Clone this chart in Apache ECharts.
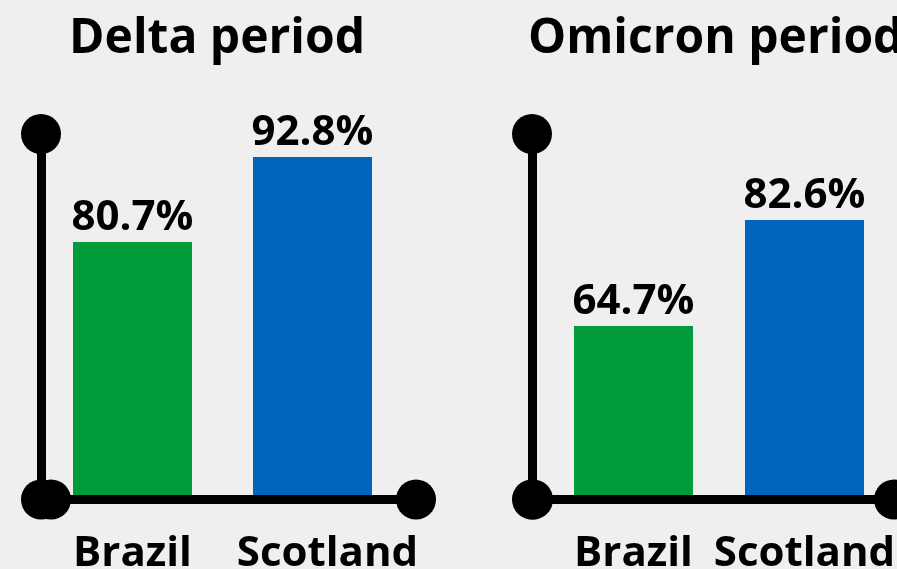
<!DOCTYPE html>
<html lang="en">
<head>
    <meta charset="UTF-8">
    <title>Delta vs Omicron</title>
    <script src="https://cdn.jsdelivr.net/npm/echarts@6/dist/echarts.min.js"></script>
    <style>
        html, body {
            margin: 0;
            padding: 0;
            background-color: #efefef;
        }
        #chart {
            width: 897px;
            height: 569px;
        }
    </style>
</head>
<body>
<div id="chart"></div>

<script>
    // data
    const countries = ['Brazil', 'Scotland'];
    const deltaValues = [80.7, 92.8];
    const omicronValues = [64.7, 82.6];
    const panelTitles = ['Delta period', 'Omicron period'];
    const barColors = ['#009b3a', '#0065bd'];

    const font = "'Open Sans', 'Noto Sans', sans-serif";

    const chart = echarts.init(document.getElementById('chart'));

    // black axis line with a round dot at each end
    function axisLineStyle(offsets) {
        return {
            show: true,
            symbol: ['circle', 'circle'],
            symbolSize: [40, 40],
            symbolOffset: offsets,
            lineStyle: { color: '#000', width: 9 }
        };
    }

    function barSeries(idx, values) {
        return {
            type: 'bar',
            xAxisIndex: idx,
            yAxisIndex: idx,
            barWidth: 119,
            z: 1,
            data: values.map((v, i) => ({
                value: v,
                itemStyle: { color: barColors[i] }
            })),
            label: {
                show: true,
                position: 'top',
                distance: 3,
                formatter: '{c}%',
                fontFamily: font,
                fontWeight: 'bold',
                fontSize: 42,
                color: '#000'
            }
        };
    }

    const labelBase = {
        interval: 0,
        margin: 34,
        fontFamily: font,
        fontWeight: 'bold',
        fontSize: 42,
        color: '#000'
    };

    const option = {
        backgroundColor: '#efefef',
        animation: false,
        title: [
            {
                text: panelTitles[0],
                left: 64,
                top: 10,
                textStyle: { fontFamily: font, fontWeight: 'bold', fontSize: 48, color: '#000' }
            },
            {
                text: panelTitles[1],
                left: 523,
                top: 10,
                textStyle: { fontFamily: font, fontWeight: 'bold', fontSize: 48, color: '#000' }
            }
        ],
        grid: [
            { left: 42.5, width: 360, top: 134, bottom: 69.5, containLabel: false, outerBoundsMode: 'none' },
            { left: 548, width: 342, top: 134, bottom: 69.5, containLabel: false, outerBoundsMode: 'none' }
        ],
        xAxis: [
            {
                type: 'category',
                gridIndex: 0,
                data: countries,
                axisLine: axisLineStyle([8.5, 13.5]),
                axisTick: { show: false },
                z: 5,
                axisLabel: Object.assign({}, labelBase, {
                    formatter: v => v === 'Scotland' ? '{s|' + v + '}' : v,
                    rich: {
                        s: {
                            fontFamily: font,
                            fontWeight: 'bold',
                            fontSize: 42,
                            color: '#000',
                            padding: [0, 0, 0, 30]
                        }
                    }
                })
            },
            {
                type: 'category',
                gridIndex: 1,
                data: countries,
                axisLine: axisLineStyle([-15, 4]),
                axisTick: { show: false },
                z: 5,
                axisLabel: Object.assign({}, labelBase)
            }
        ],
        yAxis: [
            {
                type: 'value',
                gridIndex: 0,
                min: 44.05,
                max: 96.07,
                offset: 1.5,
                axisLine: axisLineStyle([0, 0]),
                axisTick: { show: false },
                axisLabel: { show: false },
                splitLine: { show: false },
                z: 5
            },
            {
                type: 'value',
                gridIndex: 1,
                min: 35.4,
                max: 97.12,
                offset: 16,
                axisLine: axisLineStyle([0, 0]),
                axisTick: { show: false },
                axisLabel: { show: false },
                splitLine: { show: false },
                z: 5
            }
        ],
        series: [
            barSeries(0, deltaValues),
            barSeries(1, omicronValues)
        ]
    };

    chart.setOption(option);
</script>
</body>
</html>
